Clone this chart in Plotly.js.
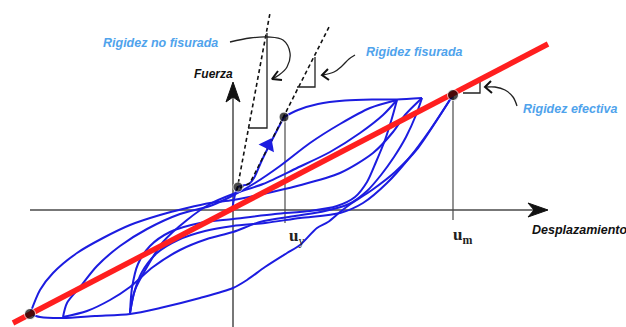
<!DOCTYPE html>
<html>
<head>
<meta charset="utf-8">
<script src="https://cdn.plot.ly/plotly-3.0.1.min.js"></script>
<style>
  html, body { margin: 0; padding: 0; background: #ffffff; }
  #chart { width: 626px; height: 327px; }
</style>
</head>
<body>
<div id="chart"></div>
<script>
// Hysteresis loops (displacement, force) in schematic units, origin at the axes crossing.
// Initial loading branch up to the yield point.
const initialX = [-1, 1, 5, 16, 21, 29, 39, 51];
const initialY = [-2, 11, 23, 26, 32, 50, 70, 93];
// Post-yield branch to the first and second positive peaks.
const postYieldX = [51, 65, 85, 112, 139, 164, 189];
const postYieldY = [93, 100, 106, 109.5, 110.5, 110.5, 112];
// Unloading from the first positive peak to the first negative peak.
const unload1X = [164, 159, 152, 143, 134, 122, 104, 77, 42, 0, -33, -63, -83, -95, -101, -103];
const unload1Y = [110, 92, 70, 48, 28, 13, 4, -1, -4, -9, -13, -22, -36, -54, -78, -103];
// Reloading from the first negative peak.
const reload1X = [-103, -98, -86, -70, -46, -23, 0, 30, 64, 97, 127, 150, 164];
const reload1Y = [-103, -80, -57, -32, -10, 6, 16, 26, 42, 58, 77, 95, 110];
// Unloading from the second positive peak to the second negative peak.
const unload2X = [189, 183, 173, 161, 148, 134, 116, 92, 62, 27, 0, -26, -53, -80, -103, -123, -146, -170];
const unload2Y = [112, 95, 73, 53, 35, 19, 6, -1, -6, -12, -22, -29, -40, -57, -77, -90, -101, -107];
// Reloading from the second negative peak.
const reload2X = [-170, -166, -153, -136, -113, -86, -53, -23, -3, 22, 47, 77, 107, 137, 164];
const reload2Y = [-107, -93, -77, -56, -36, -19, -4, 4, 13, 27, 44, 67, 86, 102, 110];
// Reloading from the maximum negative peak.
const reload3X = [-203, -193, -180, -156, -130, -103, -73, -46, -23, 0, 30, 64, 107, 140, 160, 172, 189];
const reload3Y = [-104, -80, -63, -43, -28, -15, -5, 2, 7, 10, 16, 24, 37, 57, 78, 95, 112];
// Cycle through the maximum displacement u_m.
const maxCycleX = [220, 204, 185, 162, 139, 119, 107, 95, 84, 67, 54, 32, 14, 0, -33, -73, -103, -138, -170, -193, -203];
const maxCycleY = [115, 90, 62, 38, 20, 7, -2, -12, -18, -35, -43, -57, -70, -78, -88, -98, -104, -106, -108, -107, -104];
const maxUnloadX = [220, 197, 177, 154, 130, 107, 67, 32, 0, -28, -55, -76, -91, -99, -103];
const maxUnloadY = [115, 80, 53, 27, 7, -3, -8, -13, -16, -21, -30, -43, -62, -83, -103];

// Direction arrow on the initial branch.
const arrowX = [35];
const arrowY = [65];

// Effective stiffness line (secant through the peaks).
const effX = [-220, 315];
const effY = [-113, 166];

// Uncracked and cracked stiffness lines.
const uncrackedX = [4, 37];
const uncrackedY = [20, 197];
const crackedX = [7, 17, 97];
const crackedY = [22, 27, 185];

// Slope triangles.
const triUncrX = [34, 34, 15];
const triUncrY = [177, 82, 82];
const triCrX = [82, 82, 64];
const triCrY = [153, 123, 123];
const triEffX = [247, 247, 230];
const triEffY = [131, 117, 117];

// Reference points: negative peak, max displacement, yield, cracking.
const pointsX = [-203, 220, 51, 5];
const pointsY = [-104, 115, 93, 23];

// Verticals at u_y and u_m.
const uyLineX = [52, 52];
const uyLineY = [93, -13];
const umLineX = [220, 220];
const umLineY = [115, -10];

// Axes and arrowheads.
const xAxisX = [-203, 302];
const xAxisY = [0, 0];
const xHeadX = [295, 315, 295, 301, 295];
const xHeadY = [7, 0, -7, 0, 7];
const yAxisX = [0, 0];
const yAxisY = [-117, 114];
const yHeadX = [-7, 0, 7, 0, -7];
const yHeadY = [108, 128, 108, 113, 108];

// Leader lines for the labels.
const lead1X = [-3, 17, 35, 50, 57, 54, 46, 39];
const lead1Y = [168, 172, 173, 170, 157, 143, 135, 131];
const head1X = [45, 39, 49];
const head1Y = [139, 131, 130];
const lead2X = [122, 116, 109, 101, 90];
const lead2Y = [155, 151, 144, 138, 135];
const head2X = [95, 89, 96];
const head2Y = [141, 135, 130];
const lead3X = [284, 280, 272, 262, 253];
const lead3Y = [104, 113, 120, 123, 123];
const head3X = [258, 252, 259];
const head3Y = [129, 123, 117];

// Labels.
const stiffLabels = ['Rigidez no fisurada', 'Rigidez fisurada', 'Rigidez efectiva'];
const stiffLabelX = [-73, 181, 337];
const stiffLabelY = [167, 158, 101];

const BLUE = '#1c1ce0';
const RED = '#ff1f1f';
const LABEL_BLUE = '#4fa3ec';
const AXIS = '#4a4a4a';

function line(x, y, color, width, extra) {
  return Object.assign({
    type: 'scatter', mode: 'lines', x: x, y: y,
    line: { color: color, width: width },
    hoverinfo: 'skip', showlegend: false
  }, extra || {});
}
function curve(x, y) {
  return line(x, y, BLUE, 2, { line: { color: BLUE, width: 2, shape: 'spline', smoothing: 0.8 } });
}

const traces = [
  line(xAxisX, xAxisY, AXIS, 1.5),
  line(yAxisX, yAxisY, AXIS, 1.5),
  line(xHeadX, xHeadY, '#111', 1, { fill: 'toself', fillcolor: '#111' }),
  line(yHeadX, yHeadY, '#111', 1, { fill: 'toself', fillcolor: '#111' }),
  line(uyLineX, uyLineY, AXIS, 1.2),
  line(umLineX, umLineY, AXIS, 1.2),
  curve(maxCycleX, maxCycleY),
  curve(maxUnloadX, maxUnloadY),
  curve(reload3X, reload3Y),
  curve(unload2X, unload2Y),
  curve(reload2X, reload2Y),
  curve(unload1X, unload1Y),
  curve(reload1X, reload1Y),
  curve(postYieldX, postYieldY),
  curve(initialX, initialY),
  line(uncrackedX, uncrackedY, '#111', 1.6, { line: { color: '#111', width: 1.6, dash: '4px,3px' } }),
  line(crackedX, crackedY, '#111', 1.6, { line: { color: '#111', width: 1.6, dash: '4px,3px' } }),
  line(triUncrX, triUncrY, '#222', 1.3),
  line(triCrX, triCrY, '#222', 1.3),
  line(triEffX, triEffY, '#222', 1.3),
  line(effX, effY, RED, 5.5),
  {
    type: 'scatter', mode: 'markers', x: arrowX, y: arrowY,
    marker: { symbol: 'triangle-up', size: 15, color: BLUE, angle: 27 },
    hoverinfo: 'skip', showlegend: false
  },
  {
    type: 'scatter', mode: 'markers', x: pointsX, y: pointsY,
    marker: { size: [11, 11, 10, 10], color: '#000' },
    hoverinfo: 'skip', showlegend: false
  },
  line(lead1X, lead1Y, '#222', 1.3, { line: { color: '#222', width: 1.3, shape: 'spline' } }),
  line(head1X, head1Y, '#111', 2),
  line(lead2X, lead2Y, '#222', 1.3, { line: { color: '#222', width: 1.3, shape: 'spline' } }),
  line(head2X, head2Y, '#111', 2),
  line(lead3X, lead3Y, '#222', 1.3, { line: { color: '#222', width: 1.3, shape: 'spline' } }),
  line(head3X, head3Y, '#111', 2)
];

const sans = 'Liberation Sans, Arial, sans-serif';
const serif = 'Liberation Serif, Times New Roman, serif';

const annotations = stiffLabels.map((t, i) => ({
  x: stiffLabelX[i], y: stiffLabelY[i], text: '<b><i>' + t + '</i></b>',
  showarrow: false, xanchor: 'center', yanchor: 'middle',
  font: { family: sans, size: 12.5, color: LABEL_BLUE }
})).concat([
  { x: -20, y: 136, text: '<b><i>Fuerza</i></b>', showarrow: false,
    xanchor: 'center', yanchor: 'middle', font: { family: sans, size: 12, color: '#111' } },
  { x: 297, y: -20, text: '<b><i>Desplazamiento</i></b>', showarrow: false,
    xanchor: 'left', yanchor: 'middle', font: { family: sans, size: 12.5, color: '#111' } },
  { x: 54, y: -27, text: '<b>u</b><sub>y</sub>', showarrow: false,
    xanchor: 'left', yanchor: 'middle', font: { family: serif, size: 17, color: '#222' } },
  { x: 218, y: -26, text: '<b>u</b><sub><b>m</b></sub>', showarrow: false,
    xanchor: 'left', yanchor: 'middle', font: { family: serif, size: 17, color: '#222' } }
]);

const layout = {
  width: 626, height: 327,
  margin: { l: 0, r: 0, t: 0, b: 0 },
  paper_bgcolor: '#ffffff', plot_bgcolor: '#ffffff',
  xaxis: { range: [-233, 393], visible: false, fixedrange: true },
  yaxis: { range: [-117, 210], visible: false, fixedrange: true },
  annotations: annotations,
  showlegend: false
};

Plotly.newPlot('chart', traces, layout, { staticPlot: true, displayModeBar: false });
</script>
</body>
</html>
